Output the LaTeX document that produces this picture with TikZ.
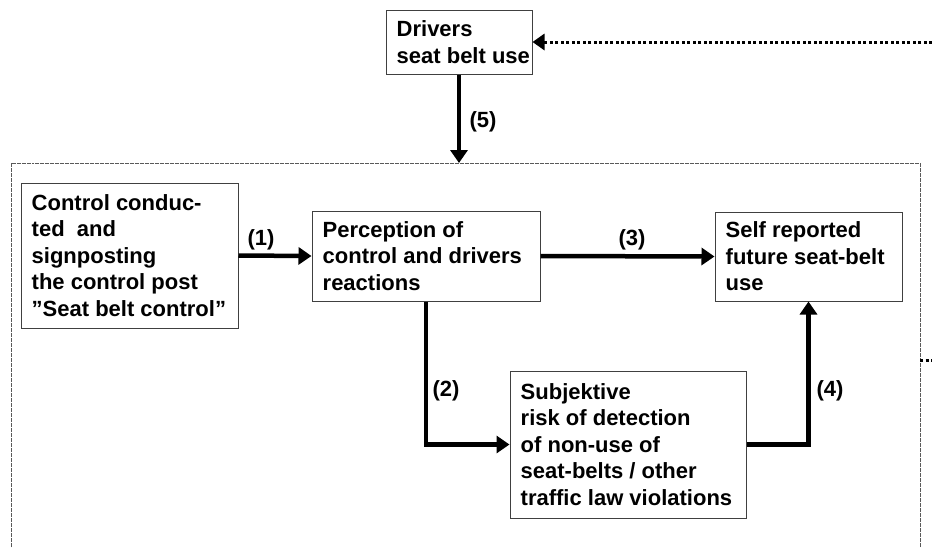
\documentclass[tikz,border=0pt]{standalone}
\usepackage{fontspec}
\setmainfont{Liberation Sans}
\usetikzlibrary{arrows.meta,calc}

\begin{document}
\begin{tikzpicture}[x=1pt,y=-1pt,
  box/.style={draw=black!75, line width=1pt, fill=white, inner sep=0pt},
  txt/.style={anchor=west, align=left, inner sep=0pt,
    font=\bfseries\fontsize{22}{26.5}\selectfont},
  arr/.style={line width=4.5pt, -{Triangle[length=13pt,width=17pt]}},
  dotarr/.style={line width=3pt, dash pattern=on 3pt off 2.5pt, -{Triangle[length=12pt,width=16pt]}},
  dotline/.style={line width=3pt, dash pattern=on 3pt off 2.5pt},
  frameline/.style={line width=1pt, black!65, dash pattern=on 2pt off 0.5pt},
  lbl/.style={font=\bfseries\fontsize{22}{26}\selectfont, inner sep=0pt}]

\useasboundingbox (0,0) rectangle (932,547);

% surrounding frame, open at the bottom
\draw[frameline] (11,547) -- (11,163) -- (920,163) -- (920,547);

% boxes
\node[box, minimum width=146pt, minimum height=64pt] (drv) at (459,42) {};
\node[box, minimum width=217pt, minimum height=145pt] (ctl) at (129.5,255.5) {};
\node[box, minimum width=228pt, minimum height=90pt] (per) at (426,256) {};
\node[box, minimum width=187pt, minimum height=89pt] (fut) at (808.5,256.5) {};
\node[box, minimum width=236pt, minimum height=147pt] (risk) at (628,444.5) {};

% box texts, left aligned
\node[txt] (drvt) at ($(drv.west)+(11,0)$) {Drivers\\seat belt use};
\node[txt] (ctlt) at ($(ctl.west)+(11,0)$)
  {Control conduc-\\ted\ \ and\\signposting\\the control post\\”Seat belt control”};
\node[txt] (pert) at ($(per.west)+(11,0)$) {Perception of\\control and drivers\\reactions};
\node[txt] (futt) at ($(fut.west)+(11,0)$) {Self reported\\future seat-belt\\use};
\node[txt] (riskt) at ($(risk.west)+(11,0)$)
  {Subjektive\\risk of detection\\of non-use of\\seat-belts / other\\traffic law violations};

% connectors
\coordinate (ftop) at (drv.south |- 0,163);
\coordinate (fb) at (932,42);
\coordinate (st1) at (920,360);
\coordinate (st2) at (932,360);

\draw[arr] (drv.south) -- (ftop);
\draw[arr] (ctl.east) -- (per.west);
\draw[arr] (per.east) -- (fut.west);
\draw[arr] (per.south) |- (risk.west);
\draw[arr] (risk.east) -| (fut.south);
\draw[dotarr] (fb) -- (drv.east);
\draw[dotline] (st1) -- (st2);

% path labels
\node[lbl] (l1) at (261,240) {(1)};
\node[lbl] (l2) at (446,391) {(2)};
\node[lbl] (l3) at (632,240) {(3)};
\node[lbl] (l4) at (830,391) {(4)};
\node[lbl] (l5) at (483,122) {(5)};
\end{tikzpicture}
\end{document}
